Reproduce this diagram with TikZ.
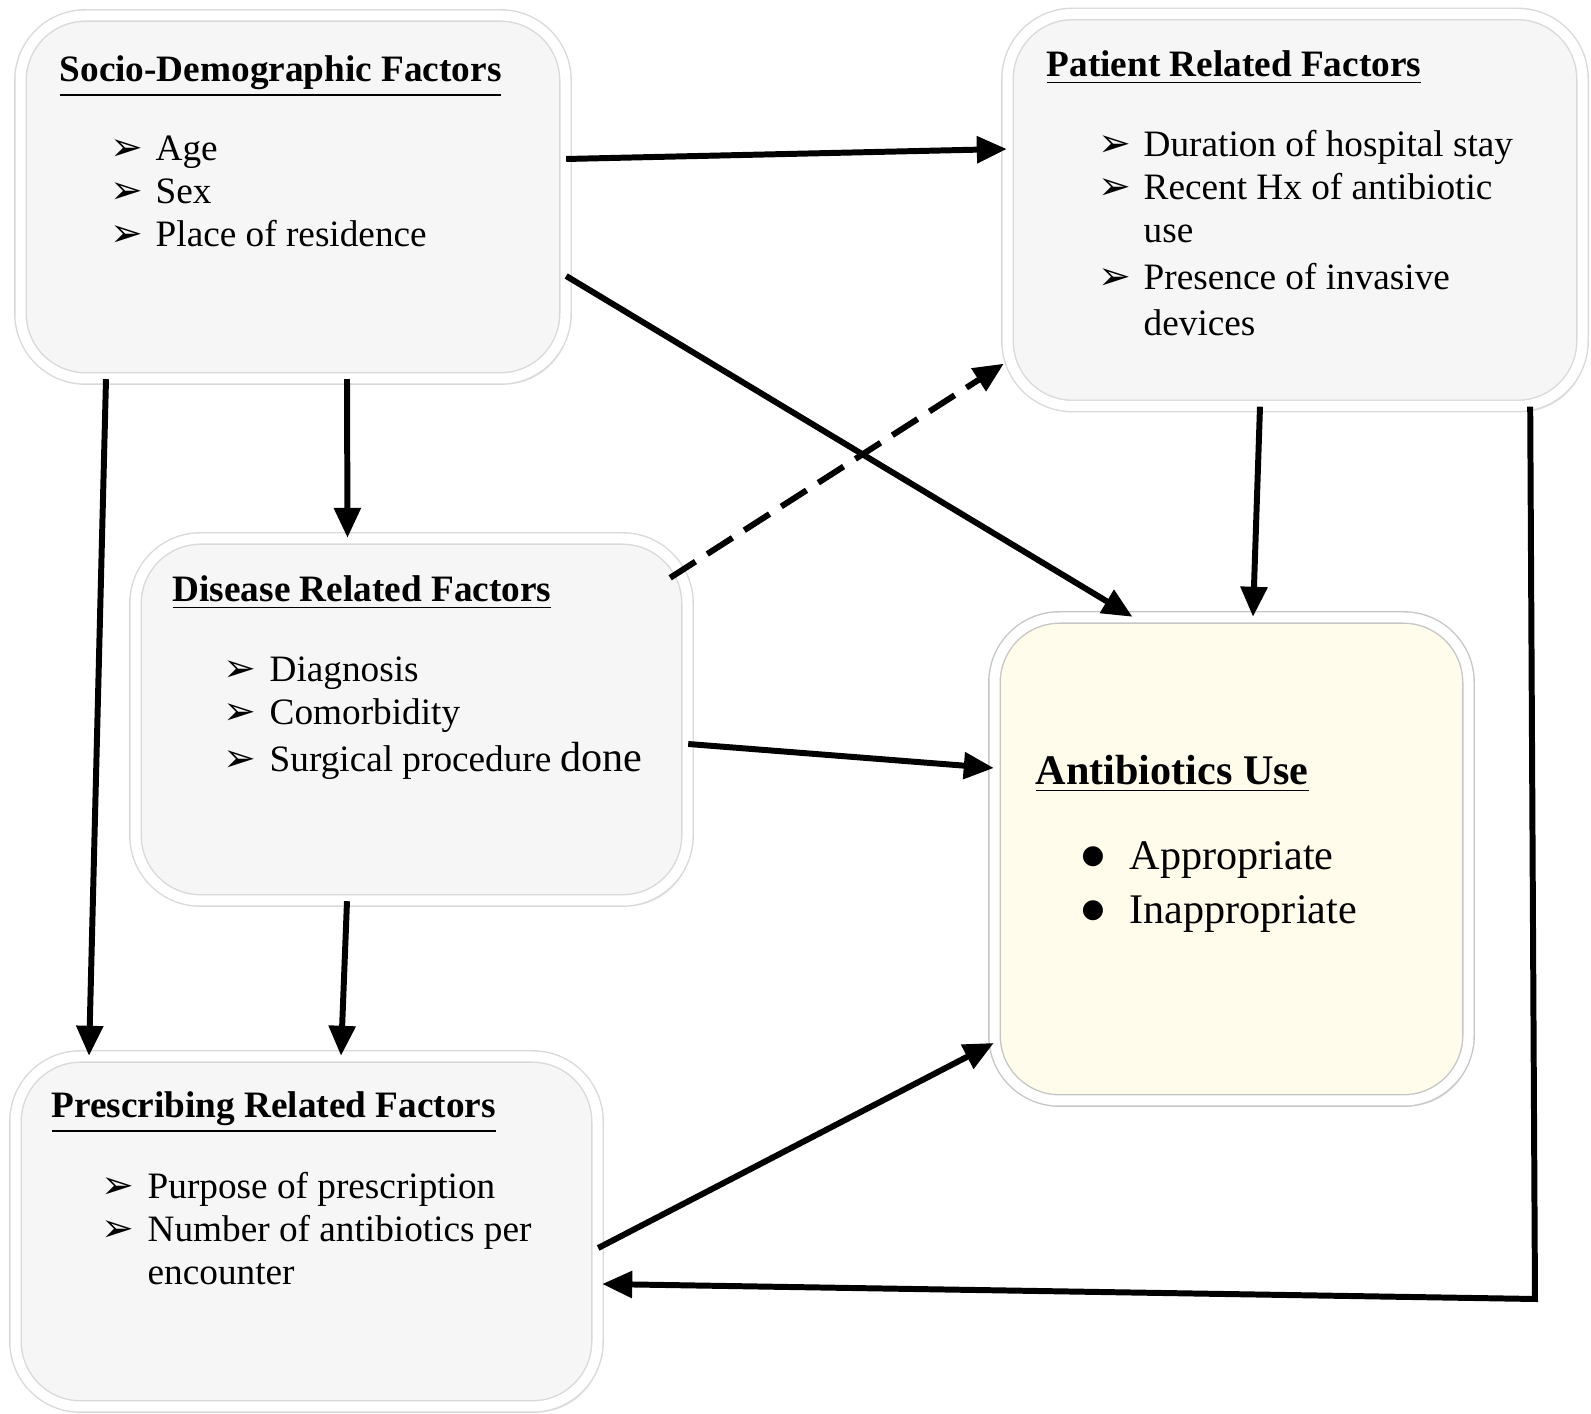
\documentclass[tikz,border=0pt]{standalone}
\usepackage{graphicx}
\usepackage{fontspec}
\setmainfont{Liberation Serif}
\newfontfamily\symfont{DejaVu Sans}
\usetikzlibrary{arrows.meta,shadows}

\newcommand{\arritem}{{\symfont\scalebox{1.05}{➢}}}
\newcommand{\dotitem}{{\symfont\raisebox{1.8pt}{\scalebox{0.62}{●}}}}
\definecolor{boxgray}{RGB}{246,246,246}
\definecolor{cream}{RGB}{255,252,236}

\tikzset{
  factor/.style={rectangle, rounded corners=6.5mm, inner sep=0pt,
    draw=gray!30, line width=0.4pt, double=white, double distance=1mm,
    fill=boxgray, drop shadow={shadow xshift=0.4mm, shadow yshift=-0.6mm, opacity=0.2}},
  outcome/.style={factor, fill=cream, draw=gray!45},
  boxtitle/.style={anchor=base west, inner sep=0pt, font=\fontsize{10.6}{12.2}\selectfont\bfseries},
  boxlist/.style={anchor=base west, inner sep=0pt, font=\fontsize{10.6}{12.2}\selectfont},
  link/.style={line width=1.7pt, -{Triangle[length=3mm,width=2.6mm]}},
}

\begin{document}
\begin{tikzpicture}[x=0.1mm, y=-0.1mm]
  % page
  \fill[white] (0,0) rectangle (1591,1414);
  \useasboundingbox (0,0) rectangle (1591,1414);

  % boxes
  \node[factor, minimum width=54.5mm, minimum height=36.3mm] (socio) at (293,197) {};
  \node[factor, minimum width=57.5mm, minimum height=39.2mm] (patient) at (1295,210) {};
  \node[factor, minimum width=55.2mm, minimum height=36.2mm] (disease) at (411.5,719.5) {};
  \node[factor, minimum width=58.2mm, minimum height=35.0mm] (prescr) at (306.5,1231.5) {};
  \node[outcome, minimum width=47.4mm, minimum height=48.3mm] (abuse) at (1231.5,859) {};

  % texts
  \node[boxtitle] (socio-title) at (59,82) {\underline{Socio-Demographic Factors}};
  \node[boxlist] (socio-list) at (110,161) {\begin{tabular}[t]{@{}p{4.5mm}@{}l@{}}
    \arritem & Age\\
    \arritem & Sex\\
    \arritem & Place of residence
  \end{tabular}};

  \node[boxtitle] (patient-title) at (1046,77) {\underline{Patient Related Factors}};
  \node[boxlist] (patient-list) at (1098,157) {\begin{tabular}[t]{@{}p{4.5mm}@{}l@{}}
    \arritem & Duration of hospital stay\\
    \arritem & Recent Hx of antibiotic\\
             & use\\[1pt]
    \arritem & Presence of invasive\\[1pt]
             & devices
  \end{tabular}};

  \node[boxtitle] (disease-title) at (172,602) {\underline{Disease Related Factors}};
  \node[boxlist] (disease-list) at (223,682) {\begin{tabular}[t]{@{}p{4.6mm}@{}l@{}}
    \arritem & Diagnosis\\
    \arritem & Comorbidity\\[1pt]
    \arritem & Surgical procedure {\fontsize{12}{12}\selectfont done}
  \end{tabular}};

  \node[boxtitle] (prescr-title) at (51,1118) {\underline{Prescribing Related Factors}};
  \node[boxlist] (prescr-list) at (101,1199) {\begin{tabular}[t]{@{}p{4.6mm}@{}l@{}}
    \arritem & Purpose of prescription\\
    \arritem & Number of antibiotics per\\
             & encounter
  \end{tabular}};

  \node[boxtitle, font=\fontsize{12}{15}\selectfont\bfseries] (abuse-title) at (1035,785) {\underline{Antibiotics Use}};
  \node[boxlist, font=\fontsize{12}{15.3}\selectfont] (abuse-list) at (1081,870) {\begin{tabular}[t]{@{}p{4.8mm}@{}l@{}}
    \dotitem & Appropriate\\
    \dotitem & Inappropriate
  \end{tabular}};

  % connectors
  \draw[link] ([yshift=3.8mm]socio.east) -- ([yshift=6.1mm]patient.west);
  \draw[link] ([yshift=-7.9mm]socio.east) -- ([xshift=-9.9mm]abuse.north);
  \draw[link] ([xshift=5.4mm]socio.south) -- ([xshift=-6.4mm]disease.north);
  \draw[link] ([xshift=-18.7mm]socio.south) -- ([xshift=-21.75mm]prescr.north);
  \draw[link, dash pattern=on 3mm off 1.4mm] ([xshift=-1.8mm,yshift=-4mm]disease.north east)
    -- ([xshift=-0.3mm,yshift=4.3mm]patient.south west);
  \draw[link] ([xshift=-3.5mm]patient.south) -- ([xshift=2.15mm]abuse.north);
  \draw[link] ([yshift=-2.45mm]disease.east) -- ([yshift=9.1mm]abuse.west);
  \draw[link] ([xshift=-6.45mm]disease.south) -- ([xshift=3.45mm]prescr.north);
  \draw[link] ([yshift=-1.65mm]prescr.east) -- ([yshift=-18.4mm]abuse.west);
  \coordinate (bend) at (1535,1299);
  \draw[link] ([xshift=-5.3mm]patient.south east) -- (bend) -- ([xshift=0.4mm,yshift=-5.25mm]prescr.east);
\end{tikzpicture}
\end{document}
